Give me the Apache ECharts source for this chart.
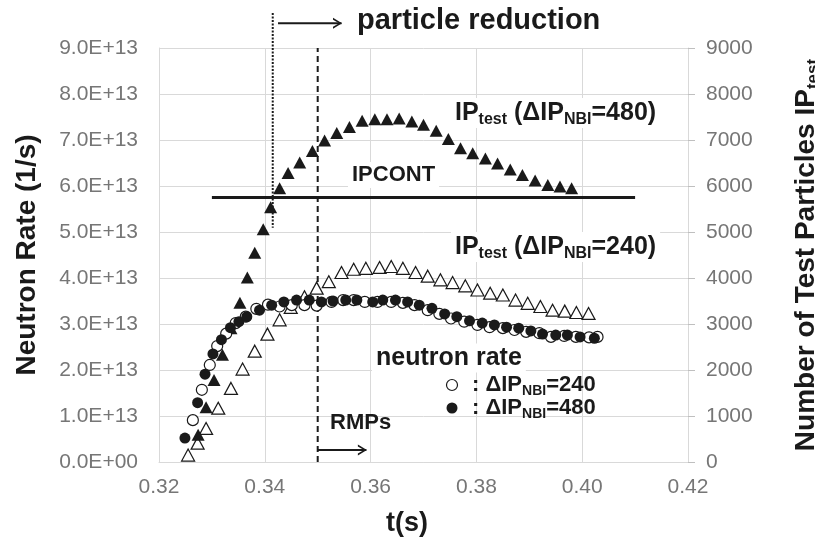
<!DOCTYPE html>
<html>
<head>
<meta charset="utf-8">
<title>Neutron rate and test particles</title>
<script src="https://cdn.jsdelivr.net/npm/echarts@6/dist/echarts.min.js"></script>
<style>
    html, body { margin: 0; padding: 0; background: #fff; }
    #main { width: 815px; height: 544px; }
</style>
</head>
<body>
<div id="main"></div>
<script>
// IP_test, dIP_NBI = 480 (filled triangles, right axis)
var ip480Time = [0.3274,0.3289,0.3304,0.3320,0.3336,0.3353,0.3367,0.3381,0.3397,0.3411,0.3428,0.3444,0.3466,0.3490,0.3513,0.3536,0.3560,0.3584,0.3608,0.3631,0.3654,0.3678,0.3700,0.3724,0.3747,0.3770,0.3793,0.3817,0.3840,0.3864,0.3887,0.3911,0.3935,0.3958,0.3980];
var ip480 = [590,1190,1780,2330,2910,3460,4010,4550,5060,5540,5950,6280,6510,6760,6990,7150,7280,7420,7450,7450,7470,7400,7330,7200,7020,6820,6710,6600,6490,6360,6240,6120,6020,5990,5950];

// IP_test, dIP_NBI = 240 (open triangles, right axis)
var ip240Time = [0.3255,0.3273,0.3289,0.3312,0.3336,0.3358,0.3381,0.3405,0.3428,0.3449,0.3475,0.3498,0.3521,0.3545,0.3568,0.3591,0.3617,0.3639,0.3661,0.3685,0.3708,0.3732,0.3755,0.3779,0.3802,0.3826,0.3850,0.3874,0.3897,0.3921,0.3944,0.3967,0.3989,0.4012];
var ip240 = [150,410,730,1170,1600,2020,2410,2780,3090,3360,3590,3780,3920,4120,4190,4210,4230,4250,4210,4120,4040,3960,3900,3830,3740,3670,3630,3520,3450,3380,3300,3280,3250,3230];

// neutron rate in units of 1E13 1/s
var nr240Time = [0.3264,0.3281,0.3296,0.3310,0.3327,0.3345,0.3364,0.3384,0.3406,0.3428,0.3451,0.3475,0.3498,0.3526,0.3548,0.3568,0.3589,0.3613,0.3639,0.3661,0.3683,0.3708,0.3730,0.3752,0.3777,0.3802,0.3825,0.3850,0.3872,0.3894,0.3919,0.3941,0.3966,0.3988,0.4013,0.4029];
var nr240 = [0.91,1.57,2.11,2.52,2.79,3.02,3.16,3.33,3.42,3.38,3.41,3.41,3.40,3.48,3.52,3.52,3.48,3.48,3.48,3.46,3.41,3.30,3.22,3.12,3.05,2.98,2.93,2.91,2.87,2.83,2.80,2.72,2.74,2.72,2.71,2.72];
var nr480Time = [0.3249,0.3273,0.3287,0.3302,0.3318,0.3335,0.3351,0.3366,0.3390,0.3413,0.3436,0.3460,0.3484,0.3507,0.3529,0.3553,0.3574,0.3604,0.3623,0.3647,0.3670,0.3692,0.3716,0.3740,0.3763,0.3787,0.3811,0.3834,0.3857,0.3880,0.3903,0.3925,0.3950,0.3972,0.3996,0.4023];
var nr480 = [0.52,1.29,1.91,2.35,2.66,2.92,3.05,3.16,3.30,3.41,3.48,3.52,3.52,3.48,3.50,3.52,3.52,3.48,3.52,3.52,3.48,3.41,3.34,3.22,3.16,3.07,3.02,2.98,2.93,2.91,2.85,2.78,2.76,2.76,2.72,2.69];

// annotation values
var ipcont = 5750;
var ipcontRange = [0.33, 0.41];
var reductionTime = 0.3415;
var rmpTime = 0.35;

function pairs(xs, ys) {
    var out = [];
    for (var i = 0; i < xs.length; i++) out.push([xs[i], ys[i]]);
    return out;
}

var FONT = "'Liberation Sans', Arial, sans-serif";
var INK = '#1a1a1a';
var GRID = '#d9d9d9';
var chevron = 'path://M0,0 L10,5 L0,10 L0,8.2 L6.8,5 L0,1.8 Z';

var chart = echarts.init(document.getElementById('main'));

var subRich = function (size, lh) {
    return { fontSize: size, fontWeight: 'bold', fontFamily: FONT, color: INK, lineHeight: lh, verticalAlign: 'bottom' };
};

function label(x, y, text, size, opts) {
    opts = opts || {};
    return {
        type: 'text', x: x, y: y, z: 100,
        style: {
            text: text, fontFamily: FONT, fontWeight: 'bold', fontSize: size, fill: INK,
            align: opts.align || 'left', verticalAlign: 'middle',
            lineHeight: opts.lh || size + 4,
            backgroundColor: opts.bg ? '#fff' : null,
            padding: opts.bg ? [0, 4, 0, 4] : 0,
            rich: { s: subRich(opts.sub || 15, opts.slh || 14) }
        }
    };
}

chart.setOption({
    animation: false,
    backgroundColor: '#fff',
    grid: { left: 159, right: 127, top: 48, bottom: 82, outerBoundsMode: 'none', containLabel: false },
    xAxis: {
        type: 'value', min: 0.32, max: 0.42, interval: 0.02,
        name: 't(s)', nameLocation: 'middle', nameGap: 48,
        nameTextStyle: { fontFamily: FONT, fontWeight: 'bold', fontSize: 27, color: INK, padding: [0, 33, 0, 0] },
        axisLine: { lineStyle: { color: GRID, width: 1 } },
        axisTick: { show: false },
        axisLabel: { margin: 15, fontFamily: FONT, fontSize: 21, color: '#767676',
            formatter: function (v) { return v.toFixed(2); } },
        splitLine: { lineStyle: { color: GRID, width: 1 } }
    },
    yAxis: [{
        type: 'value', min: 0, max: 9, interval: 1,
        name: 'Neutron Rate (1/s)', nameLocation: 'middle', nameGap: 118,
        nameTextStyle: { fontFamily: FONT, fontWeight: 'bold', fontSize: 28, color: INK },
        axisLine: { show: true, lineStyle: { color: GRID, width: 1 } },
        axisTick: { show: false },
        axisLabel: { margin: 21, fontFamily: FONT, fontSize: 21, color: '#767676',
            formatter: function (v) { return v === 0 ? '0.0E+00' : v.toFixed(1) + 'E+13'; } },
        splitLine: { lineStyle: { color: GRID, width: 1 } }
    }, {
        type: 'value', min: 0, max: 9000, interval: 1000, position: 'right',
        name: 'Number of Test Particles IP{s|test}', nameLocation: 'middle', nameGap: 102,
        nameTextStyle: { fontFamily: FONT, fontWeight: 'bold', fontSize: 28, color: INK, lineHeight: 32,
            rich: { s: subRich(17, 16) } },
        axisLine: { show: true, lineStyle: { color: GRID, width: 1 } },
        axisTick: { show: true, length: 7, lineStyle: { color: '#bfbfbf' } },
        axisLabel: { margin: 18, fontFamily: FONT, fontSize: 21, color: '#767676',
            formatter: function (v) { return String(v); } },
        splitLine: { show: false }
    }],
    series: [
        { type: 'line', data: pairs(ipcontRange, [ipcont, ipcont]), yAxisIndex: 1, symbol: 'none',
          lineStyle: { color: INK, width: 3 }, z: 3 },
        { type: 'line', data: [[reductionTime, 9.76], [reductionTime, 5.09]], symbol: 'none', clip: false,
          lineStyle: { color: INK, width: 2, type: [2, 1.5] }, z: 3 },
        { type: 'line', data: [[rmpTime, 0], [rmpTime, 9]], symbol: 'none', clip: false,
          lineStyle: { color: INK, width: 2, type: [6, 4] }, z: 3 },
        { type: 'line', clip: false, showSymbol: true, z: 3,
          data: [{ value: [0.3425, 9.54], symbol: 'none' },
                 { value: [0.3545, 9.54], symbol: chevron, symbolSize: [9, 11], symbolOffset: [-4, 0] }],
          lineStyle: { color: INK, width: 2 }, itemStyle: { color: INK } },
        { type: 'line', clip: false, showSymbol: true, z: 3,
          data: [{ value: [rmpTime, 0.26], symbol: 'none' },
                 { value: [0.3592, 0.26], symbol: chevron, symbolSize: [9, 11], symbolOffset: [-4, 0] }],
          lineStyle: { color: INK, width: 2 }, itemStyle: { color: INK } },
        { type: 'scatter', name: 'IPtest 240', yAxisIndex: 1, data: pairs(ip240Time, ip240),
          symbol: 'triangle', symbolSize: [13, 12], z: 4,
          itemStyle: { color: '#fff', borderColor: INK, borderWidth: 1.2, opacity: 1 } },
        { type: 'scatter', name: 'IPtest 480', yAxisIndex: 1, data: pairs(ip480Time, ip480),
          symbol: 'triangle', symbolSize: [13, 12], z: 4,
          itemStyle: { color: INK, opacity: 1 } },
        { type: 'scatter', name: 'neutron 240', data: pairs(nr240Time, nr240),
          symbol: 'circle', symbolSize: 11, z: 5,
          itemStyle: { color: '#fff', borderColor: INK, borderWidth: 1.2, opacity: 1 } },
        { type: 'scatter', name: 'neutron 480', data: pairs(nr480Time, nr480),
          symbol: 'circle', symbolSize: 11, z: 6,
          itemStyle: { color: INK, opacity: 1 } }
    ],
    graphic: [
        label(357, 21, 'particle reduction', 29),
        label(451, 113, 'IP{s|test} (ΔIP{s|NBI}=480)', 25, { bg: true, sub: 16, slh: 14, lh: 30 }),
        label(451, 247, 'IP{s|test} (ΔIP{s|NBI}=240)', 25, { bg: true, sub: 16, slh: 14, lh: 30 }),
        label(348, 175, 'IPCONT', 22, { bg: true }),
        label(372, 358, 'neutron rate', 25, { bg: true }),
        label(472, 385, ': ΔIP{s|NBI}=240', 22, { sub: 14, slh: 13, lh: 26 }),
        label(472, 408, ': ΔIP{s|NBI}=480', 22, { sub: 14, slh: 13, lh: 26 }),
        label(330, 423, 'RMPs', 22),
        { type: 'circle', z: 100, shape: { cx: 452, cy: 385, r: 5.5 },
          style: { fill: '#fff', stroke: INK, lineWidth: 1.2 } },
        { type: 'circle', z: 100, shape: { cx: 452, cy: 408, r: 5.5 },
          style: { fill: INK } }
    ]
});
</script>
</body>
</html>
